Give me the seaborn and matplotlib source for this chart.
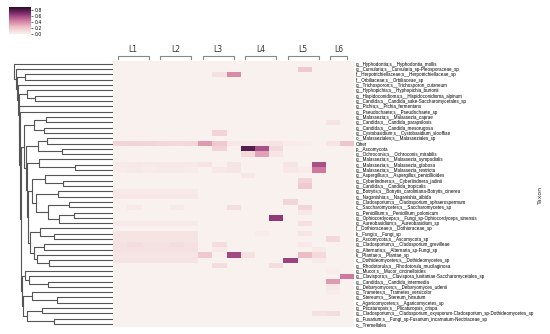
import numpy as np
import pandas as pd
import matplotlib
matplotlib.use("Agg")
import matplotlib.pyplot as plt
import seaborn as sns

# taxa, top to bottom (row order of the clustered heatmap)
taxa = [
    "g__Hyphodontia;s__Hyphodontia_mollis",
    "g__Curvularia;s__Curvularia_sp-Pleosporaceae_sp",
    "f__Herpotrichiellaceae;s__Herpotrichiellaceae_sp",
    "f__Orbiliaceae;s__Orbiliaceae_sp",
    "g__Trichosporon;s__Trichosporon_cutaneum",
    "g__Hyphopichia;s__Hyphopichia_burtonii",
    "g__Hispidoconidioma;s__Hispidoconidioma_alpinum",
    "g__Candida;s__Candida_sake-Saccharomycetales_sp",
    "g__Pichia;s__Pichia_fermentans",
    "g__Pseudochaete;s__Pseudochaete_sp",
    "g__Malassezia;s__Malassezia_caprae",
    "g__Candida;s__Candida_parapsilosis",
    "g__Candida;s__Candida_mesorugosa",
    "g__Cystobasidium;s__Cystobasidium_slooffiae",
    "o__Malasseziales;s__Malasseziales_sp",
    "Other",
    "p__Ascomycota",
    "g__Ochroconis;s__Ochroconis_mirabilis",
    "g__Malassezia;s__Malassezia_sympodialis",
    "g__Malassezia;s__Malassezia_globosa",
    "g__Malassezia;s__Malassezia_restricta",
    "g__Aspergillus;s__Aspergillus_penicillioides",
    "g__Cyberlindnera;s__Cyberlindnera_jadinii",
    "g__Candida;s__Candida_tropicalis",
    "g__Botrytis;s__Botrytis_caroliniana-Botrytis_cinerea",
    "g__Naganishia;s__Naganishia_albida",
    "g__Cladosporium;s__Cladosporium_sphaerospermum",
    "c__Saccharomycetes;s__Saccharomycetes_sp",
    "g__Penicillium;s__Penicillium_polonicum",
    "g__Ophiocordyceps;s__Fungi_sp-Ophiocordyceps_sinensis",
    "g__Aureobasidium;s__Aureobasidium_sp",
    "f__Dothioraceae;s__Dothioraceae_sp",
    "k__Fungi;s__Fungi_sp",
    "p__Ascomycota;s__Ascomycota_sp",
    "g__Cladosporium;s__Cladosporium_grevilleae",
    "g__Alternaria;s__Alternaria_sp-Fungi_sp",
    "k__Plantae;s__Plantae_sp",
    "c__Dothideomycetes;s__Dothideomycetes_sp",
    "g__Rhodotorula;s__Rhodotorula_mucilaginosa",
    "g__Mucor;s__Mucor_circinelloides",
    "g__Clavispora;s__Clavispora_lusitaniae-Saccharomycetales_sp",
    "g__Candida;s__Candida_intermedia",
    "g__Debaryomyces;s__Debaryomyces_udenii",
    "g__Trametes;s__Trametes_versicolor",
    "g__Stereum;s__Stereum_hirsutum",
    "c__Agaricomycetes;s__Agaricomycetes_sp",
    "g__Plicaturopsis;s__Plicaturopsis_crispa",
    "g__Cladosporium;s__Cladosporium_oxysporum-Cladosporium_sp-Dothideomycetes_sp",
    "g__Fusarium;s__Fungi_sp-Fusarium_incarnatum-Nectriaceae_sp",
    "o__Tremellales",
]

groups = ["L1", "L2", "L3", "L4", "L5", "L6"]
samples_per_group = [3, 3, 3, 3, 3, 2]

# non-zero cells: row index, sample column, relative abundance
cell_row = [1, 2, 2, 11, 13,
            15, 15, 15, 15, 15, 15, 15, 15, 15, 15, 15, 15, 15, 15, 15, 15,
            16, 16, 16, 16, 17, 17, 17,
            19, 19, 19, 19, 19, 19, 19, 19, 19, 19,
            20, 20, 20, 20, 20, 20, 20, 20, 20, 20, 20,
            21, 22, 23,
            24, 24, 24, 24, 24, 24, 25, 25, 25, 25, 25, 25,
            26, 27, 27, 27, 27, 28, 29,
            30, 30, 30, 30, 30, 30, 30,
            32, 32, 32, 32, 32, 32, 32, 32,
            33, 33, 33, 33, 33, 33, 33,
            34, 34, 34, 34, 34, 34, 34, 34,
            35, 35, 35, 35, 35, 35, 35, 35,
            36, 36, 36, 36, 36, 36, 36, 36, 36, 36, 36,
            37, 37, 37, 37, 37, 37, 37, 37,
            38, 38, 39, 40, 41, 42, 43, 47, 47]
cell_col = [13, 7, 8, 15, 7,
            0, 1, 2, 3, 4, 5, 6, 7, 8, 9, 10, 11, 12, 13, 15, 16,
            7, 9, 10, 11, 9, 10, 11,
            0, 1, 2, 3, 4, 5, 6, 8, 12, 14,
            0, 1, 2, 3, 4, 5, 7, 8, 12, 13, 14,
            9, 13, 13,
            0, 1, 2, 3, 4, 5, 0, 1, 2, 3, 4, 5,
            12, 8, 13, 1, 4, 13, 11,
            0, 1, 2, 3, 4, 5, 13,
            0, 1, 2, 3, 4, 5, 10, 13,
            0, 1, 2, 3, 4, 5, 15,
            0, 1, 2, 3, 4, 5, 7, 13,
            0, 1, 2, 3, 4, 5, 7, 14,
            0, 1, 2, 3, 4, 5, 6, 8, 9, 13, 14,
            0, 1, 2, 3, 4, 5, 12, 14,
            7, 11, 15, 16, 15, 15, 15, 14, 15]
cell_val = [.20, .08, .40, .07, .15,
            .14, .15, .14, .13, .12, .13, .35, .20, .05, .04, .05, .07, .03, .02, .06, .22,
            .15, .80, .58, .12, .12, .33, .06,
            .04, .05, .04, .05, .05, .04, .07, .07, .07, .58,
            .03, .04, .03, .04, .04, .03, .05, .06, .05, .03, .45,
            .05, .15, .20,
            .04, .04, .04, .04, .04, .04, .05, .05, .05, .05, .05, .05,
            .14, .10, .14, .04, .04, .05, .66,
            .04, .04, .04, .04, .04, .04, .09,
            .07, .07, .07, .07, .07, .07, .03, .06,
            .07, .07, .07, .07, .07, .07, .13,
            .08, .10, .08, .08, .10, .08, .10, .04,
            .08, .08, .08, .08, .08, .08, .04, .04,
            .06, .06, .06, .06, .06, .06, .20, .60, .08, .25, .12,
            .07, .07, .07, .07, .07, .07, .62, .04,
            .10, .10, .02, .45, .35, .05, .03, .08, .10]

# row dendrogram: (distance, upper, lower), leaves are row indices
row_tree = (1.00, 0,
 (0.975, 1,
  (0.965, (0.89, 2, 3),
   (0.955, 4,
    (0.95, (0.87, 5, (0.79, 6, 7)),
     (0.945, 8,
      (0.94, 9,
       (0.93,
        (0.90,
         (0.80, (0.68, 10, 11), (0.70, 12, 13)),
         (0.88,
          (0.76, (0.67, 14, 15), (0.52, 16, 17)),
          (0.87,
           (0.75, 18, (0.39, 19, 20)),
           (0.86,
            (0.82, (0.69, 21, (0.51, 22, 23)),
             (0.78, (0.56, 24, 25), (0.66, (0.45, 26, 27), (0.55, (0.40, 28, 29), 30)))),
            (0.84, (0.74, 31, (0.60, 32, 33)),
             (0.80, (0.70, 34, 35), (0.77, 36, (0.65, 37, 38)))))))),
        (0.92,
         (0.89, 39, (0.85, 40, (0.66, 41, 42))),
         (0.91, (0.82, 43, (0.57, 44, 45)), (0.87, (0.72, 46, 47), (0.60, 48, 49))))))))))))

n_cols = sum(samples_per_group)
columns = [f"{g}_{i + 1}" for g, n in zip(groups, samples_per_group) for i in range(n)]
mat = np.zeros((len(taxa), n_cols))
mat[cell_row, cell_col] = cell_val
df = pd.DataFrame(mat, index=taxa, columns=columns)

W, H = 550, 334
fig = plt.figure(figsize=(W / 100, H / 100), dpi=100)


def box(x0, y0, x1, y1):
    return [x0 / W, 1 - y1 / H, (x1 - x0) / W, (y1 - y0) / H]


ax = fig.add_axes(box(113.3, 61.2, 354.2, 326.7))
ax_den = fig.add_axes(box(13, 61.2, 113.3, 326.7))
cax = fig.add_axes(box(9.3, 7.3, 31, 34))

cmap = sns.blend_palette(["#f9f1ee", "#eec4c9", "#d07a9f", "#8a3274", "#2a0d2c"],
                         as_cmap=True)
sns.heatmap(df, ax=ax, cmap=cmap, vmin=0, vmax=0.9, cbar_ax=cax,
            xticklabels=False, yticklabels=True)
ax.yaxis.tick_right()
ax.tick_params(axis="y", length=0, pad=1, labelsize=3.25, labelrotation=0)
for t in ax.get_yticklabels():
    t.set_fontfamily("Liberation Sans")
ax.set_ylabel("")
ax.set_xlabel("")

cax.tick_params(labelsize=3.3, length=1.5, width=0.4, pad=1)
cax.set_yticks([0, 0.2, 0.4, 0.6, 0.8])

# group brackets above the heatmap
start = 0
for g, n in zip(groups, samples_per_group):
    x0, x1 = start + 0.3, start + n - 0.5
    ax.plot([x0, x0, x1, x1], [-0.35, -0.95, -0.95, -0.35], color="#888888",
            lw=0.8, clip_on=False)
    ax.text((x0 + x1) / 2, -1.3, g, ha="center", va="bottom", fontsize=5.5,
            color="#333333")
    start += n


# row dendrogram
def draw(node):
    if isinstance(node, int):
        return node + 0.5, 0.0
    h, left, right = node
    yl, hl = draw(left)
    yr, hr = draw(right)
    ax_den.plot([hl, h, h, hr], [yl, yl, yr, yr], color="#555555", lw=0.8)
    return (yl + yr) / 2, h


draw(row_tree)
ax_den.set_xlim(1.01, 0)
ax_den.set_ylim(len(taxa), 0)
ax_den.axis("off")

fig.text(540 / W, 1 - 195 / H, "Taxon", rotation=90, ha="center", va="center",
         fontsize=4.5, color="#333333")

plt.savefig("out.png", dpi=100)
